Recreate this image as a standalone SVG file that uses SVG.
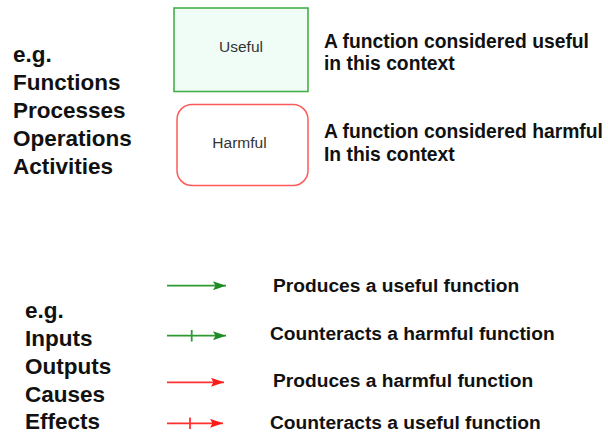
<svg xmlns="http://www.w3.org/2000/svg" width="608" height="433" viewBox="0 0 608 433">
<style>
.big{font-family:"Liberation Sans",Arial,sans-serif;font-weight:bold;font-size:22.5px;fill:#111}
.desc{font-family:"Liberation Sans",Arial,sans-serif;font-weight:bold;font-size:19.3px;fill:#111}
.leg{font-family:"Liberation Sans",Arial,sans-serif;font-weight:bold;font-size:19.2px;fill:#111}
.lbl{font-family:"Liberation Sans",Arial,sans-serif;font-size:15.5px;fill:#333;text-anchor:middle}
.g{stroke:#2e9a33;stroke-width:1.8;fill:none}
.r{stroke:#ff3030;stroke-width:1.8;fill:none}
</style>
<defs>
<marker id="ag" viewBox="0 0 13 9" refX="13" refY="4.5" markerWidth="13" markerHeight="9" markerUnits="userSpaceOnUse" orient="auto"><path d="M0,0 L13,4.5 L0,9 L2.5,4.5 Z" fill="#1e8c22"/></marker>
<marker id="ar" viewBox="0 0 13 9" refX="13" refY="4.5" markerWidth="13" markerHeight="9" markerUnits="userSpaceOnUse" orient="auto"><path d="M0,0 L13,4.5 L0,9 L2.5,4.5 Z" fill="#ff1a1a"/></marker>
</defs>
<rect width="608" height="433" fill="#fff"/>
<g id="left-top">
<text class="big" x="13" y="62">e.g.</text>
<text class="big" x="13" y="90">Functions</text>
<text class="big" x="13" y="118">Processes</text>
<text class="big" x="13" y="146">Operations</text>
<text class="big" x="13" y="174">Activities</text>
</g>
<g id="useful">
<rect x="174" y="8" width="134" height="83.5" fill="#effdf6" stroke="#45b04a" stroke-width="1.6"/>
<text class="lbl" x="241" y="51.5">Useful</text>
</g>
<g id="harmful">
<rect x="177" y="104.5" width="131" height="81" rx="15" ry="15" fill="#fff" stroke="#ff5a5a" stroke-width="1.5"/>
<text class="lbl" x="239.5" y="148.3">Harmful</text>
</g>
<g id="descriptions">
<text class="desc" x="324" y="48">A function considered useful</text>
<text class="desc" x="324" y="70">in this context</text>
<text class="desc" x="324" y="138">A function considered harmful</text>
<text class="desc" x="324" y="161">In this context</text>
</g>
<g id="left-bottom">
<text class="big" x="25" y="318">e.g.</text>
<text class="big" x="25" y="346">Inputs</text>
<text class="big" x="25" y="374">Outputs</text>
<text class="big" x="25" y="402">Causes</text>
<text class="big" x="25" y="429">Effects</text>
</g>
<g id="connectors">
<line class="g" x1="167" y1="285.7" x2="226" y2="285.7" marker-end="url(#ag)"/>
<line class="g" x1="167" y1="335.7" x2="226" y2="335.7" marker-end="url(#ag)"/>
<line class="g" x1="191.7" y1="330" x2="191.7" y2="341.5"/>
<line class="r" x1="167" y1="382.3" x2="224" y2="382.3" marker-end="url(#ar)"/>
<line class="r" x1="167" y1="423.3" x2="223" y2="423.3" marker-end="url(#ar)"/>
<line class="r" x1="190" y1="417.5" x2="190" y2="429"/>
</g>
<g id="legend">
<text class="leg" x="273" y="291.5">Produces a useful function</text>
<text class="leg" x="270" y="340">Counteracts a harmful function</text>
<text class="leg" x="273" y="386.5">Produces a harmful function</text>
<text class="leg" x="270" y="428.5">Counteracts a useful function</text>
</g>
</svg>
